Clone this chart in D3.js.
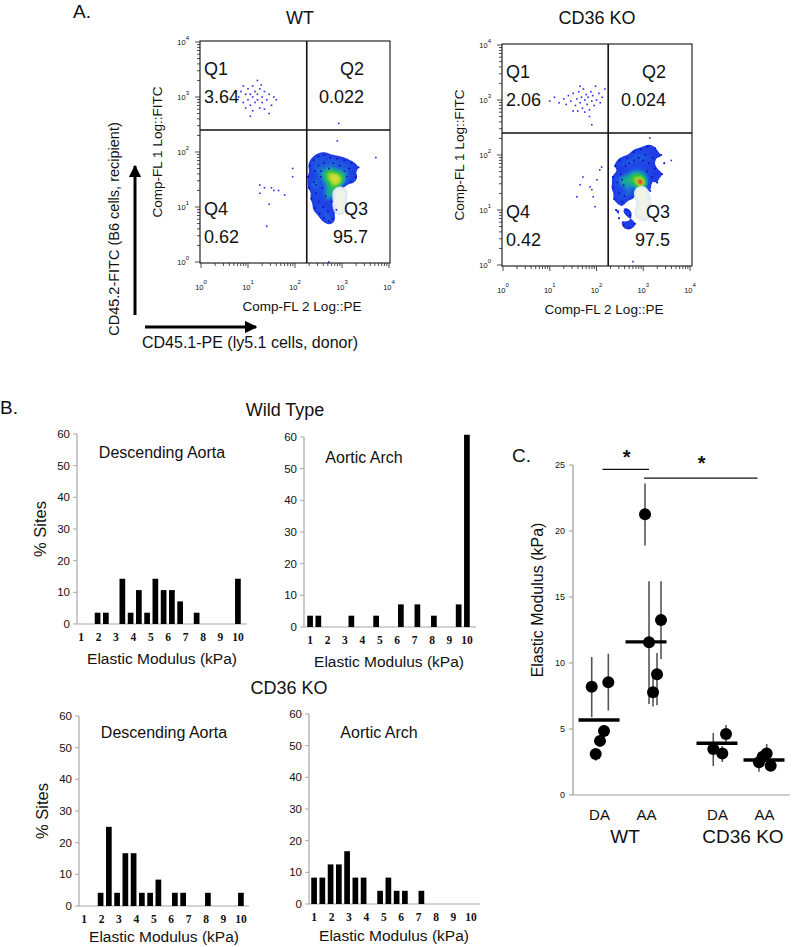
<!DOCTYPE html>
<html><head><meta charset="utf-8">
<script src="https://cdn.jsdelivr.net/npm/d3@7"></script>
<style>
body{margin:0;background:#fff}
svg{display:block}
text{font-family:"Liberation Sans",Arial,Helvetica,sans-serif;fill:#111}
</style>
</head><body>
<svg id="c" width="800" height="947"></svg>
<script>
// ======================= DATA =======================
// Panel A: flow cytometry (values in log10 units)
const quadNames = ["Q1","Q2","Q4","Q3"];
const wtQuadPct = ["3.64","0.022","0.62","95.7"];
const koQuadPct = ["2.06","0.024","0.42","97.5"];
const gateLog = [2.25, 2.4]; // PE gate, FITC gate (log10)
const decadeTicks = [0,1,2,3,4];

const wtSparse = [[0.80,3.00],[0.85,3.10],[0.90,2.90],[0.95,3.05],[1.00,2.95],[1.00,3.15],[1.05,2.85],[1.05,3.05],[1.10,3.00],[1.10,3.20],[1.15,2.90],[1.15,3.10],[1.20,2.95],[1.20,3.05],[1.25,2.80],[1.25,3.15],[1.30,3.00],[1.30,2.90],[1.35,3.10],[1.40,2.95],[1.45,3.05],[1.50,2.85],[1.55,3.00],[1.60,2.95],[0.95,2.80],[1.10,2.75],[1.35,2.78],[1.20,3.30],[1.05,2.65],[1.45,2.70],[0.90,3.20],[1.28,3.22],
  [1.25,1.40],[1.35,1.35],[1.50,1.35],[1.55,1.30],[1.65,1.30],[1.95,1.70],[1.95,1.55],[1.40,0.65],[1.45,1.05],[1.78,1.22],[1.25,1.25],
  [2.93,2.52],[2.72,0.0],[3.72,1.90],[2.90,2.20]];
const wtBlob = [[2.28,1.55],[2.30,1.35],[2.32,1.75],[2.35,1.15],[2.40,1.85],[2.42,0.98],[2.50,1.92],[2.52,0.88],[2.62,0.80],[2.72,0.74],[2.80,0.78],[2.62,1.95],[2.75,1.90],[2.90,1.88],[3.05,1.85],[3.20,1.80],[3.35,1.72],[3.30,1.55],[3.20,1.45],[2.88,0.95],
  [2.40,1.45],[2.42,1.65],[2.45,1.25],[2.50,1.75],[2.50,1.10],[2.55,1.55],[2.58,1.35],[2.60,1.00],[2.62,1.80],[2.65,1.20],[2.70,0.92],[2.72,1.70],[2.78,1.10],[2.82,1.80],[2.95,1.75],[3.05,1.65],[3.10,1.55],[3.15,1.70],[2.45,1.40],[2.55,1.65],
  [2.65,1.50],[2.68,1.60],[2.70,1.40],[2.72,1.55],[2.75,1.65],[2.78,1.45],[2.80,1.58],[2.82,1.38],[2.85,1.50],[2.88,1.62],[2.90,1.45],[2.92,1.55],[2.95,1.40],[2.98,1.58],[3.00,1.48],[2.75,1.30],[2.80,1.25],[2.85,1.30],[2.70,1.20],
  [2.86,1.52],[2.92,1.45],[2.78,1.55]];
const wtPale = [[2.88,1.25],[2.92,1.15],[2.95,1.05],[2.92,0.95],[2.98,1.22],[3.02,1.05],[2.90,1.05],[2.98,0.92],[3.04,1.25],[2.95,1.30]];

const koSparse = [[1.00,2.98],[1.10,3.05],[1.20,2.95],[1.30,3.02],[1.35,2.92],[1.40,3.08],[1.45,2.98],[1.50,3.12],[1.55,2.90],[1.58,3.02],[1.62,3.15],[1.65,2.95],[1.68,3.05],[1.70,2.85],[1.72,3.20],[1.75,3.00],[1.78,3.10],[1.80,2.92],[1.82,3.05],[1.85,2.82],[1.88,3.15],[1.90,2.98],[1.92,3.08],[1.95,2.90],[1.98,3.25],[2.00,3.00],[2.05,3.12],[2.08,2.95],[2.12,3.05],[2.18,3.20],[1.60,2.80],[1.75,2.78],[1.85,2.70],[1.50,2.80],[1.90,2.55],[1.65,3.25],
  [1.65,1.46],[1.71,1.60],[1.90,1.37],[1.93,1.24],[2.01,1.55],[2.07,1.73],[2.11,1.78],[1.97,1.06],[1.58,1.24],[1.86,1.42],
  [3.14,2.31],[2.78,0.06],[3.60,1.90]];
const koBlob = [[2.35,1.60],[2.35,1.40],[2.38,1.20],[2.42,1.00],[2.48,0.85],[2.58,0.72],[2.70,0.68],[2.82,0.75],[2.40,1.80],[2.50,1.90],[2.65,1.95],[2.80,2.05],[2.95,2.10],[3.10,2.15],[3.25,2.12],[3.38,2.00],[3.45,1.85],[3.40,1.65],[3.30,1.50],[3.15,1.35],
  [2.45,1.50],[2.48,1.30],[2.52,1.65],[2.55,1.15],[2.58,1.45],[2.62,1.80],[2.65,1.00],[2.70,1.85],[2.72,0.90],[2.80,1.90],[2.90,1.95],[3.00,1.90],[3.05,2.00],[3.12,1.85],[3.20,1.95],[3.25,1.75],[3.18,1.60],[3.08,1.70],[2.55,1.55],[2.60,1.25],
  [2.62,1.50],[2.65,1.60],[2.68,1.40],[2.72,1.55],[2.75,1.65],[2.78,1.45],[2.80,1.58],[2.82,1.70],[2.85,1.52],[2.88,1.62],[2.90,1.45],[2.95,1.55],[2.98,1.65],[3.00,1.50],[2.70,1.30],[2.78,1.25],[2.92,1.75],
  [2.95,1.48],[2.97,1.50],[3.00,1.46],[2.93,1.52],[2.96,1.49]];
const koPale = [[2.90,1.30],[2.95,1.15],[3.00,1.00],[3.05,1.25],[2.92,0.95],[3.08,1.10],[2.98,1.35],[3.02,0.88]];

// Panel B: histograms, % sites per 0.5 kPa bin
const binUpper = [0.5,1,1.5,2,2.5,3,3.5,4,4.5,5,5.5,6,6.5,7,7.5,8,8.5,9,9.5,10];
const binTickLabels = [1,2,3,4,5,6,7,8,9,10];
const pctTicks = [0,10,20,30,40,50,60];
const wtDA = [0,0,3.57,3.57,0,14.29,3.57,10.71,3.57,14.29,10.71,10.71,7.14,0,3.57,0,0,0,0,14.29];
const wtAA = [3.57,3.57,0,0,0,3.57,0,0,3.57,0,0,7.14,0,7.14,0,3.57,0,0,7.14,60.71];
const koDA = [0,0,4.17,25,4.17,16.67,16.67,4.17,4.17,8.33,0,4.17,4.17,0,0,4.17,0,0,0,4.17];
const koAA = [8.33,8.33,12.5,12.5,16.67,8.33,8.33,0,4.17,8.33,4.17,4.17,0,4.17,0,0,0,0,0,0];

// Panel C: elastic modulus per animal (value, lower, upper)
const genotypes = ["WT","CD36 KO"];
const tissues = ["DA","AA"];
const cTicks = [0,5,10,15,20,25];
const cPoints = [
  {g:"WT",t:"DA",v:8.2,lo:5.9,hi:10.45},{g:"WT",t:"DA",v:8.54,lo:6.4,hi:10.7},{g:"WT",t:"DA",v:4.85,lo:4.4,hi:5.3},{g:"WT",t:"DA",v:4.1,lo:3.7,hi:4.5},{g:"WT",t:"DA",v:3.1,lo:2.6,hi:3.5},
  {g:"WT",t:"AA",v:21.27,lo:18.9,hi:23.6},{g:"WT",t:"AA",v:11.57,lo:6.9,hi:16.2},{g:"WT",t:"AA",v:13.26,lo:10.3,hi:16.2},{g:"WT",t:"AA",v:9.14,lo:6.8,hi:10.75},{g:"WT",t:"AA",v:7.78,lo:6.7,hi:9.0},
  {g:"CD36 KO",t:"DA",v:4.62,lo:4.0,hi:5.3},{g:"CD36 KO",t:"DA",v:3.48,lo:2.2,hi:4.7},{g:"CD36 KO",t:"DA",v:3.15,lo:2.5,hi:3.7},
  {g:"CD36 KO",t:"AA",v:3.15,lo:2.7,hi:3.86},{g:"CD36 KO",t:"AA",v:2.9,lo:2.4,hi:3.4},{g:"CD36 KO",t:"AA",v:2.48,lo:1.77,hi:3.0},{g:"CD36 KO",t:"AA",v:2.22,lo:2.0,hi:2.6}
];
const cMeans = [{g:"WT",t:"DA",v:5.68},{g:"WT",t:"AA",v:11.6},{g:"CD36 KO",t:"DA",v:3.92},{g:"CD36 KO",t:"AA",v:2.65}];
const cSig = [{a:["WT","DA"],b:["WT","AA"],v:24.67,label:"*"},{a:["WT","AA"],b:["CD36 KO","AA"],v:24.0,label:"*"}];

// ======================= LAYOUT =======================
const jitterPx = [-7.8,8.8,4.5,0.5,-3.8, -1.5,2.5,14.5,10.5,6.5, 8.5,-4.2,4.8, 2.2,-1.8,-5.5,6.2];
const sigShift = [[3,2.5],[-2.5,-7]];

const svg = d3.select("#c");
const defs = svg.append("defs");
defs.append("marker").attr("id","arr").attr("viewBox","0 0 10 10").attr("refX",9).attr("refY",5)
  .attr("markerWidth",4.2).attr("markerHeight",4.2).attr("markerUnits","strokeWidth").attr("orient","auto")
  .append("path").attr("d","M0,0L10,5L0,10Z").attr("fill","#000");

function txt(x,y,s,size,anchor,extra){
  const t = svg.append("text").attr("x",x).attr("y",y).attr("font-size",size).attr("text-anchor",anchor||"start").text(s);
  if(extra) extra(t);
  return t;
}

// ---------------- Panel A ----------------
txt(73,18,"A.",19);
txt(300,24,"WT",18,"middle");
txt(597,24,"CD36 KO",18,"middle");

function drawFlow(L, sparse, blob, pale, pct){
  const heat = d3.scaleLinear().domain([0,0.28,0.45,0.62,0.82,1])
    .range(["#1f1fe8","#1f4fe4","#18a0b0","#30c440","#a8d838",L.hot]);
  const xs = d3.scaleLinear().domain([0,4]).range([L.x0,L.x4]);
  const ys = d3.scaleLinear().domain([0,4]).range([L.y0,L.y4]);
  const cid = "clip"+L.key;
  defs.append("clipPath").attr("id",cid).append("rect")
    .attr("x",L.left).attr("y",L.top).attr("width",L.right-L.left).attr("height",L.bottom-L.top);
  const plot = svg.append("g").attr("clip-path",`url(#${cid})`);
  // individual events
  plot.append("g").selectAll("rect").data(sparse.concat(blob)).join("rect")
    .attr("x",d=>xs(d[0])-0.8).attr("y",d=>ys(d[1])-0.8).attr("width",1.6).attr("height",1.6)
    .attr("fill","#2a2af2");
  // pseudocolor density
  const dens = d3.contourDensity().x(d=>xs(d[0])).y(d=>ys(d[1])).size([800,400]).cellSize(2).bandwidth(3.2).thresholds(28);
  const cs = dens(blob);
  const mx = d3.max(cs,c=>c.value);
  plot.append("g").selectAll("path").data(cs.filter(c=>c.value/mx>0.16)).join("path")
    .attr("d",d3.geoPath()).attr("fill",c=>heat(c.value/mx));
  const pd = d3.contourDensity().x(d=>xs(d[0])).y(d=>ys(d[1])).size([800,400]).cellSize(2).bandwidth(3).thresholds(10);
  const ps = pd(pale);
  const pm = d3.max(ps,c=>c.value);
  const paleCol = d3.scaleLinear().domain([0,0.5,1]).range(["#c8dcf4","#e8f0f0","#f6f4e0"]);
  plot.append("g").selectAll("path").data(ps.filter(c=>c.value/pm>0.25)).join("path")
    .attr("d",d3.geoPath()).attr("fill",c=>paleCol(c.value/pm)).attr("opacity",0.9);
  // speckle on top of the low-density fringe
  plot.append("g").selectAll("rect").data(blob.slice(0,40)).join("rect")
    .attr("x",d=>xs(d[0])-0.8).attr("y",d=>ys(d[1])-0.8).attr("width",1.6).attr("height",1.6)
    .attr("fill","#0c0cb8");
  // frame and gates
  svg.append("rect").attr("x",L.left).attr("y",L.top).attr("width",L.right-L.left).attr("height",L.bottom-L.top)
    .attr("fill","none").attr("stroke","#111").attr("stroke-width",1.1);
  svg.append("line").attr("x1",xs(gateLog[0])).attr("x2",xs(gateLog[0])).attr("y1",L.top).attr("y2",L.bottom)
    .attr("stroke","#111").attr("stroke-width",1.6);
  svg.append("line").attr("x1",L.left).attr("x2",L.right).attr("y1",ys(gateLog[1])).attr("y2",ys(gateLog[1]))
    .attr("stroke","#111").attr("stroke-width",1.6);
  // ticks
  const minor = [];
  decadeTicks.slice(0,4).forEach(k=>{for(let m=2;m<=9;m++) minor.push(k+Math.log10(m));});
  const ax = svg.append("g").attr("stroke","#222").attr("stroke-width",0.8);
  decadeTicks.forEach(k=>{
    ax.append("line").attr("x1",xs(k)).attr("x2",xs(k)).attr("y1",L.bottom).attr("y2",L.bottom+5);
    ax.append("line").attr("y1",ys(k)).attr("y2",ys(k)).attr("x1",L.left).attr("x2",L.left-5);
  });
  minor.forEach(v=>{
    ax.append("line").attr("x1",xs(v)).attr("x2",xs(v)).attr("y1",L.bottom).attr("y2",L.bottom+3);
    ax.append("line").attr("y1",ys(v)).attr("y2",ys(v)).attr("x1",L.left).attr("x2",L.left-3);
  });
  decadeTicks.forEach(k=>{
    const t = svg.append("text").attr("x",xs(k)).attr("y",L.bottom+27).attr("font-size",7.5)
      .attr("text-anchor","middle").attr("fill","#333");
    t.append("tspan").text("10");
    t.append("tspan").attr("dy",-6).attr("font-size",6).text(k);
    const t2 = svg.append("text").attr("x",L.left-11).attr("y",ys(k)+3).attr("font-size",7.5)
      .attr("text-anchor","end").attr("fill","#333");
    t2.append("tspan").text("10");
    t2.append("tspan").attr("dy",-5).attr("font-size",6).text(k);
  });
  // quadrant labels
  const qx = [L.left+4, L.right-26, L.left+4, L.right-22];
  const qa = ["start","end","start","end"];
  const qy = [L.top+34, L.top+34, L.top+174, L.top+174];
  quadNames.forEach((q,i)=>{
    txt(qx[i],qy[i],q,18,qa[i]);
    txt(qx[i],qy[i]+28,pct[i],18,qa[i]);
  });
  // axis titles
  txt(0,0,"Comp-FL  1 Log::FITC",13.5,"middle",t=>t.attr("transform",`translate(${L.left-38},${(L.top+L.bottom)/2}) rotate(-90)`).attr("x",null).attr("y",null));
  txt((L.left+L.right)/2+7,L.bottom+48,"Comp-FL 2 Log::PE",13.5,"middle");
}
drawFlow({key:"wt",left:200,right:390,top:41,bottom:263,x0:201,x4:389,y0:262,y4:42,hot:"#e4e030"}, wtSparse, wtBlob, wtPale, wtQuadPct);
drawFlow({key:"ko",left:502,right:692,top:44,bottom:266,x0:503,x4:690,y0:265,y4:45,hot:"#ee4a1a"}, koSparse, koBlob, koPale, koQuadPct);

// arrows
svg.append("line").attr("x1",135).attr("y1",315).attr("x2",135).attr("y2",166)
  .attr("stroke","#000").attr("stroke-width",3).attr("marker-end","url(#arr)");
svg.append("line").attr("x1",145).attr("y1",327).attr("x2",256).attr("y2",327)
  .attr("stroke","#000").attr("stroke-width",3).attr("marker-end","url(#arr)");
svg.append("text").attr("transform","translate(119,229) rotate(-90)").attr("font-size",14.5)
  .attr("text-anchor","middle").text("CD45.2-FITC (B6 cells, recipient)");
txt(142,348,"CD45.1-PE (ly5.1 cells, donor)",16);

// ---------------- Panel B ----------------
txt(0,414,"B.",19);
txt(285,416,"Wild Type",18,"middle");
txt(289,694,"CD36 KO",18,"middle");

function drawHist(L, vals, title){
  const y = d3.scaleLinear().domain([0,60]).range([L.y0,L.y60]);
  const x = d3.scaleBand().domain(binUpper).range([L.band0,L.band0+20*8.25]).paddingInner(0.31).paddingOuter(0.15);
  const xt = d3.scaleLinear().domain([1,10]).range([x(binUpper[0])+x.bandwidth()/2, x(binUpper[19])+x.bandwidth()/2]);
  const g = svg.append("g");
  g.append("line").attr("x1",L.ax).attr("x2",L.ax).attr("y1",L.y0).attr("y2",L.y60).attr("stroke","#a8a8a8").attr("stroke-width",1.2);
  g.append("line").attr("x1",L.ax).attr("x2",L.axEnd).attr("y1",L.y0).attr("y2",L.y0).attr("stroke","#a8a8a8").attr("stroke-width",1.2);
  pctTicks.forEach(v=>{
    g.append("line").attr("x1",L.ax-4).attr("x2",L.ax).attr("y1",y(v)).attr("y2",y(v)).attr("stroke","#a8a8a8");
    g.append("text").attr("x",L.ax-7).attr("y",y(v)+4).attr("font-size",11.5).attr("text-anchor","end").attr("fill","#333").text(v);
  });
  g.selectAll("rect.bar").data(vals.map((v,i)=>({k:binUpper[i],v}))).join("rect")
    .attr("x",d=>x(d.k)).attr("width",x.bandwidth()).attr("y",d=>y(d.v)).attr("height",d=>L.y0-y(d.v)).attr("fill","#000");
  binTickLabels.forEach(v=>{
    g.append("text").attr("x",xt(v)).attr("y",L.y0+17).attr("font-size",11.5).attr("font-weight","bold")
      .attr("text-anchor","middle").style("font-family","'Liberation Serif','DejaVu Serif',serif").attr("fill","#222").text(v);
  });
  g.append("text").attr("x",L.ax+85).attr("y",L.y0+L.labDy).attr("font-size",15.5).attr("text-anchor","middle").text("Elastic Modulus (kPa)");
  g.append("text").attr("x",L.ax+L.titleDx).attr("y",L.y60+L.titleDy).attr("font-size",16).attr("text-anchor","middle").text(title);
  if(L.ylab) g.append("text").attr("transform",`translate(${L.ax-31},${(L.y0+L.y60)/2}) rotate(-90)`)
    .attr("font-size",16.5).attr("text-anchor","middle").text("% Sites");
}
drawHist({ax:77,axEnd:247,band0:77,y0:624,y60:434,titleDx:85,titleDy:24,labDy:40,ylab:true}, wtDA, "Descending Aorta");
drawHist({ax:304,axEnd:476,band0:306,y0:627,y60:437,titleDx:60,titleDy:26,labDy:40,ylab:false}, wtAA, "Aortic Arch");
drawHist({ax:79,axEnd:249,band0:80,y0:906,y60:716,titleDx:85,titleDy:22,labDy:36,ylab:true}, koDA, "Descending Aorta");
drawHist({ax:309,axEnd:480,band0:310,y0:904,y60:714,titleDx:70,titleDy:24,labDy:37,ylab:false}, koAA, "Aortic Arch");

// ---------------- Panel C ----------------
txt(512,462,"C.",19);
const yC = d3.scaleLinear().domain([0,25]).range([795,465]);
const gOuter = d3.scaleBand().domain(genotypes).range([575,789]).paddingInner(0.186);
const tInner = d3.scalePoint().domain(tissues).range([-23.5,23.5]);
const cx = (g,t)=> gOuter(g)+gOuter.bandwidth()/2+tInner(t);
const gc = svg.append("g");
gc.append("line").attr("x1",573).attr("x2",573).attr("y1",yC(0)).attr("y2",yC(25)).attr("stroke","#999").attr("stroke-width",1.2);
gc.append("line").attr("x1",573).attr("x2",790).attr("y1",yC(0)).attr("y2",yC(0)).attr("stroke","#999").attr("stroke-width",1.2);
cTicks.forEach(v=>{
  gc.append("line").attr("x1",569).attr("x2",573).attr("y1",yC(v)).attr("y2",yC(v)).attr("stroke","#999");
  gc.append("text").attr("x",565).attr("y",yC(v)+3).attr("font-size",9).attr("text-anchor","end").attr("fill","#444").text(v);
});
gc.append("text").attr("transform","translate(543,600) rotate(-90)").attr("font-size",16).attr("text-anchor","middle").text("Elastic Modulus (kPa)");
// error bars
gc.selectAll("line.err").data(cPoints).join("line")
  .attr("x1",(d,i)=>cx(d.g,d.t)+jitterPx[i]).attr("x2",(d,i)=>cx(d.g,d.t)+jitterPx[i])
  .attr("y1",d=>yC(d.lo)).attr("y2",d=>yC(d.hi)).attr("stroke","#555").attr("stroke-width",1.6);
// means
gc.selectAll("line.mean").data(cMeans).join("line")
  .attr("x1",d=>cx(d.g,d.t)-21).attr("x2",d=>cx(d.g,d.t)+20)
  .attr("y1",d=>yC(d.v)).attr("y2",d=>yC(d.v)).attr("stroke","#000").attr("stroke-width",3.4);
// dots
gc.selectAll("circle").data(cPoints).join("circle")
  .attr("cx",(d,i)=>cx(d.g,d.t)+jitterPx[i]).attr("cy",d=>yC(d.v)).attr("r",6).attr("fill","#000");
// significance
cSig.forEach((s,i)=>{
  const x1 = cx(s.a[0],s.a[1])+sigShift[i][0], x2 = cx(s.b[0],s.b[1])+sigShift[i][1];
  gc.append("line").attr("x1",x1).attr("x2",x2).attr("y1",yC(s.v)).attr("y2",yC(s.v)).attr("stroke","#111").attr("stroke-width",1.3);
  gc.append("text").attr("x",(x1+x2)/2+1).attr("y",yC(s.v)-(i?8:5)).attr("font-size",20).attr("font-weight","bold")
    .attr("text-anchor","middle").text(s.label);
});
// category labels
cMeans.forEach(d=>{
  gc.append("text").attr("x",cx(d.g,d.t)).attr("y",820).attr("font-size",15).attr("text-anchor","middle").text(d.t);
});
genotypes.forEach(g=>{
  gc.append("text").attr("x",gOuter(g)+gOuter.bandwidth()/2+2).attr("y",843).attr("font-size",19).attr("text-anchor","middle").text(g);
});
</script>
</body></html>
